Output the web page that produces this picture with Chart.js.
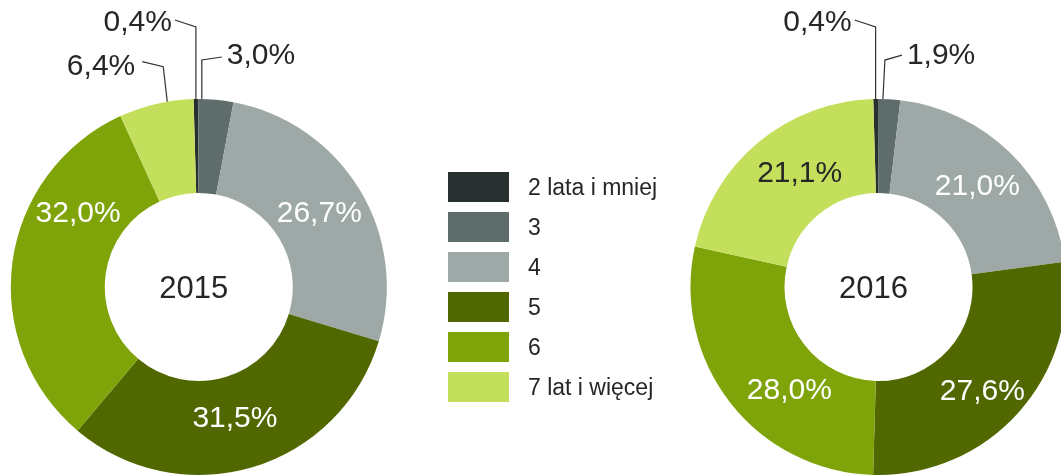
<!DOCTYPE html>
<html>
<head>
<meta charset="utf-8">
<script src="https://cdn.jsdelivr.net/npm/chart.js@4/dist/chart.umd.min.js"></script>
<style>
  html, body { margin: 0; padding: 0; background: #fff; overflow: hidden; }
  #wrap { position: relative; width: 1061px; height: 476px; overflow: hidden; background: #fff; }
  canvas { position: absolute; left: 0; top: 0; }
  #legend { position: absolute; left: 448px; top: 172px; font-family: 'Liberation Sans', Arial, sans-serif; font-size: 23px; color: #262626; }
  .row { height: 30px; margin-bottom: 10px; display: flex; align-items: center; }
  .box { width: 61px; height: 30px; margin-right: 19px; flex: none; }
</style>
</head>
<body>
<div id="wrap">
  <canvas id="c2015" width="1100" height="476"></canvas>
  <canvas id="c2016" width="1100" height="476"></canvas>
  <div id="legend"></div>
</div>
<script>
// ---- data ----
const categories = ['2 lata i mniej', '3', '4', '5', '6', '7 lat i więcej'];
const years = ['2015', '2016'];
const values2015 = [0.4, 3.0, 26.7, 31.5, 32.0, 6.4];
const values2016 = [0.4, 1.9, 21.0, 27.6, 28.0, 21.1];

// ---- styles ----
const colors = ['#28302f', '#5e6d6b', '#9ea9a7', '#516800', '#7fa40a', '#c3df5c'];
const FONT = "'Liberation Sans', Arial, sans-serif";
const DARK = '#262626';

function fmt(v) { return v.toFixed(1).replace('.', ',') + '%'; }

const sliceLabels = {
  id: 'sliceLabels',
  afterDatasetsDraw(chart, args, opts) {
    const ctx = chart.ctx;
    const meta = chart.getDatasetMeta(0);
    const data = chart.data.datasets[0].data;
    ctx.save();
    ctx.font = '30px ' + FONT;
    ctx.textBaseline = 'middle';
    meta.data.forEach((arc, i) => {
      const p = arc.getProps(['x', 'y', 'startAngle', 'endAngle', 'innerRadius', 'outerRadius'], true);
      const text = fmt(data[i]);
      const out = opts.outside[i];
      if (out) {
        const a = p.startAngle + (p.endAngle - p.startAngle) * out.t;
        const ax = p.x + p.outerRadius * Math.cos(a);
        const ay = p.y + p.outerRadius * Math.sin(a);
        ctx.strokeStyle = '#333';
        ctx.lineWidth = 1.2;
        ctx.beginPath();
        ctx.moveTo(ax, ay);
        ctx.lineTo(ax + out.elbow[0], ay + out.elbow[1]);
        ctx.lineTo(ax + out.end[0], ay + out.end[1]);
        ctx.stroke();
        ctx.fillStyle = DARK;
        ctx.textAlign = out.align;
        ctx.fillText(text, ax + out.text[0], ay + out.text[1]);
      } else {
        const c = arc.tooltipPosition(true);
        const n = opts.nudge[i] || [0, 0];
        ctx.fillStyle = i === 5 ? DARK : '#ffffff';
        ctx.textAlign = 'center';
        ctx.fillText(text, c.x + n[0], c.y + n[1]);
      }
    });
    // centre title
    const a0 = meta.data[0];
    ctx.font = '31px ' + FONT;
    ctx.fillStyle = DARK;
    ctx.textAlign = 'center';
    ctx.fillText(opts.title, a0.x + opts.titleDx, a0.y + 2);
    ctx.restore();
  }
};

function makeChart(id, values, title, padding, labelOpts) {
  return new Chart(document.getElementById(id), {
    type: 'doughnut',
    data: {
      labels: categories,
      datasets: [{
        data: values,
        backgroundColor: colors,
        borderWidth: 0,
        hoverOffset: 0
      }]
    },
    options: {
      responsive: false,
      animation: false,
      events: [],
      rotation: -1.6,
      cutout: '50%',
      layout: { padding: padding },
      plugins: {
        legend: { display: false },
        tooltip: { enabled: false },
        sliceLabels: Object.assign({ title: title, titleDx: -5 }, labelOpts)
      }
    },
    plugins: [sliceLabels]
  });
}

makeChart('c2015', values2015, years[0],
  { left: 10.8, right: 713.2, top: 99, bottom: 1 },
  {
    outside: {
      0: { t: 0.5, elbow: [0, -72], end: [-21, -79], text: [-24, -76], align: 'right' },
      1: { t: 0.1, elbow: [0, -39], end: [20, -42], text: [25, -43], align: 'left' },
      5: { t: 0.65, elbow: [-4, -35], end: [-25, -40], text: [-32, -35], align: 'right' }
    },
    nudge: { 3: [-4, -3], 4: [19, -54] }
  });

makeChart('c2016', values2016, years[1],
  { left: 690.5, right: 33.5, top: 99, bottom: 1 },
  {
    outside: {
      0: { t: 0.5, elbow: [0, -72], end: [-21, -79], text: [-24, -76], align: 'right' },
      1: { t: 0.22, elbow: [2, -39], end: [19, -44], text: [24, -43], align: 'left' }
    },
    nudge: { 3: [-1, 10], 4: [22, 17], 5: [11, -5] }
  });

// HTML legend built from categories and colours
const legend = document.getElementById('legend');
categories.forEach((c, i) => {
  const row = document.createElement('div');
  row.className = 'row';
  const box = document.createElement('div');
  box.className = 'box';
  box.style.background = colors[i];
  const lab = document.createElement('span');
  lab.textContent = c;
  row.appendChild(box);
  row.appendChild(lab);
  legend.appendChild(row);
});
</script>
</body>
</html>
